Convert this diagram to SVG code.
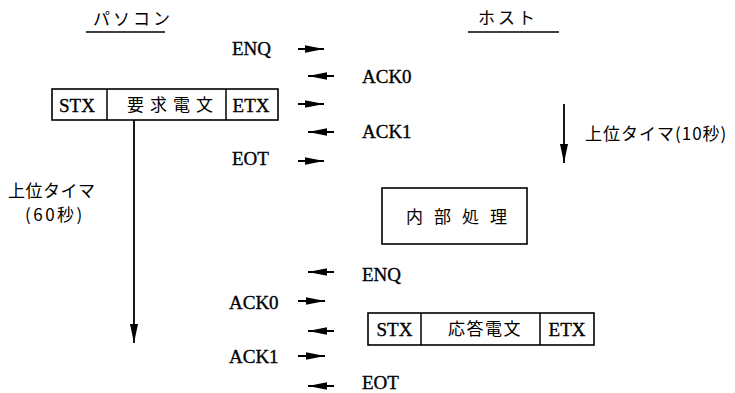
<svg xmlns="http://www.w3.org/2000/svg" width="735" height="393" viewBox="0 0 735 393">
<defs>
<marker id="ah" markerUnits="userSpaceOnUse" markerWidth="20" markerHeight="10" viewBox="0 0 20 10" refX="19" refY="5" orient="auto">
<path d="M0,1.3 L19,5 L0,8.7 Z" fill="#000"/>
</marker>
<marker id="av" markerUnits="userSpaceOnUse" markerWidth="20" markerHeight="10" viewBox="0 0 20 10" refX="19" refY="5" orient="auto">
<path d="M0,1 L19,5 L0,9 Z" fill="#000"/>
</marker>
</defs>
<style>
.t{font-family:"Liberation Serif",serif;font-size:19px;fill:#000;stroke:#000;stroke-width:0.35}
.j{font-family:"Noto Sans CJK JP",sans-serif;font-size:17px;fill:#000}
.b{fill:#fff;stroke:#000;stroke-width:1.6}
.c{stroke:#000;stroke-width:2;fill:none;marker-end:url(#ah)}
.v{stroke:#000;stroke-width:1.8;fill:none;marker-end:url(#av)}
.u{stroke:#000;stroke-width:1.5}
</style>
<rect width="735" height="393" fill="#fff"/>
<g id="pc-title">
<text class="j" x="93" y="25" letter-spacing="3">パソコン</text>
<line class="u" x1="86" y1="32" x2="165" y2="32"/>
</g>
<g id="host-title">
<text class="j" x="478" y="24" letter-spacing="3">ホスト</text>
<line class="u" x1="468" y1="32" x2="559" y2="32"/>
</g>
<g id="req-msg">
<rect class="b" x="52" y="89" width="226" height="31"/>
<line class="u" x1="107" y1="89" x2="107" y2="120"/>
<line class="u" x1="226" y1="89" x2="226" y2="120"/>
<text class="t" x="77" y="112" text-anchor="middle">STX</text>
<text class="j" x="127" y="111" letter-spacing="6">要求電文</text>
<text class="t" x="251" y="112" text-anchor="middle">ETX</text>
</g>
<g id="internal">
<rect class="b" x="382" y="188" width="145" height="56"/>
<text class="j" x="406" y="223" letter-spacing="11">内部処理</text>
</g>
<g id="res-msg">
<rect class="b" x="368" y="313" width="226" height="32"/>
<line class="u" x1="421" y1="313" x2="421" y2="345"/>
<line class="u" x1="540" y1="313" x2="540" y2="345"/>
<text class="t" x="394.5" y="336" text-anchor="middle">STX</text>
<text class="j" x="448" y="335" letter-spacing="1.5">応答電文</text>
<text class="t" x="567" y="336" text-anchor="middle">ETX</text>
</g>
<g id="labels">
<text class="t" x="232" y="55">ENQ</text>
<text class="t" x="362" y="83">ACK0</text>
<text class="t" x="362" y="138">ACK1</text>
<text class="t" x="232" y="165">EOT</text>
<text class="t" x="362" y="281">ENQ</text>
<text class="t" x="229" y="309">ACK0</text>
<text class="t" x="229" y="363">ACK1</text>
<text class="t" x="362" y="389">EOT</text>
<text class="j" x="8" y="197" font-size="18" letter-spacing="0.5">上位タイマ</text>
<text class="j" x="25" y="221" letter-spacing="2.5">(60秒)</text>
<text class="j" x="585" y="140" font-size="18" letter-spacing="1">上位タイマ(10秒)</text>
</g>
<g id="connectors">
<line class="c" x1="298" y1="49" x2="324" y2="49"/>
<line class="c" x1="334" y1="76" x2="308" y2="76"/>
<line class="c" x1="298" y1="104" x2="324" y2="104"/>
<line class="c" x1="334" y1="132" x2="308" y2="132"/>
<line class="c" x1="298" y1="161" x2="324" y2="161"/>
<line class="c" x1="334" y1="272" x2="308" y2="272"/>
<line class="c" x1="298" y1="301" x2="325" y2="301"/>
<line class="c" x1="334" y1="331" x2="308" y2="331"/>
<line class="c" x1="298" y1="356" x2="325" y2="356"/>
<line class="c" x1="334" y1="386" x2="308" y2="386"/>
<line class="v" x1="134" y1="120" x2="134" y2="343"/>
<line class="v" x1="564" y1="104" x2="564" y2="163"/>
</g>
</svg>
